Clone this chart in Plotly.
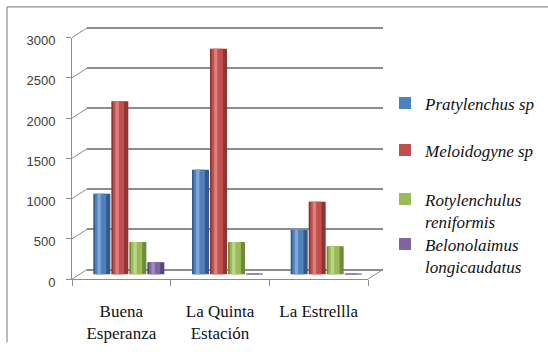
import plotly.graph_objects as go

# ---- data -------------------------------------------------------------
sites = ["Buena<br>Esperanza", "La Quinta<br>Estación", "La Estrellla"]
species = [
    "Pratylenchus sp",
    "Meloidogyne sp",
    "Rotylenchulus<br>reniformis",
    "Belonolaimus<br>longicaudatus",
]
pratylenchus = [1000, 1300, 550]
meloidogyne = [2150, 2800, 900]
rotylenchulus = [400, 400, 350]
belonolaimus = [150, 8, 8]
series_values = [pratylenchus, meloidogyne, rotylenchulus, belonolaimus]

y_ticks = [0, 500, 1000, 1500, 2000, 2500, 3000]

# ---- styling ----------------------------------------------------------
W, H = 548, 362
main_col = ["#4F81BD", "#C0504D", "#9BBB59", "#8064A2"]
dark_col = ["#34598A", "#8E3532", "#6F8A3A", "#5A4479"]
light_col = ["#7FA6D6", "#DC7F7C", "#BBD586", "#A38CC2"]
grid_col = "#8C8C8C"
SERIF = "Liberation Serif, Times New Roman, serif"

PX_PER_UNIT = 0.084          # vertical scale shared by all three layers
DEPTH_X, DEPTH_Y = 15, 10    # 3-D depth offset of the back wall (px)

# front axes box (px, measured from top-left of the page)
FRONT_L, FRONT_R, FRONT_ZERO = 72, 368, 287


def fx(px):
    return px / W


def fy(py):
    return 1 - py / H


def y_range(zero_px, top_px, bottom_px):
    return [-(bottom_px - zero_px) / PX_PER_UNIT, (zero_px - top_px) / PX_PER_UNIT]


fig = go.Figure()

# back wall (gridlines only) on x / y
back_zero = FRONT_ZERO - DEPTH_Y
fig.add_trace(go.Scatter(x=[0], y=[None], xaxis="x", yaxis="y",
                         mode="markers", showlegend=False, hoverinfo="skip"))
# front axes with the labels on x2 / y2
fig.add_trace(go.Scatter(x=sites, y=[None] * len(sites), xaxis="x2", yaxis="y2",
                         mode="markers", showlegend=False, hoverinfo="skip"))

# shaded cylinders on x3 / y3, set half-way into the depth
cat_px = (FRONT_R - FRONT_L) / len(sites)
pitch = 18 / cat_px
bar_w = 17 / cat_px
n = len(species)
for i, (name, vals) in enumerate(zip(species, series_values)):
    left = -n / 2 * pitch + i * pitch + (pitch - bar_w) / 2
    layers = [
        (dark_col[i], left, bar_w, False),
        (main_col[i], left + 0.10 * bar_w, 0.66 * bar_w, True),
        (light_col[i], left + 0.24 * bar_w, 0.20 * bar_w, False),
    ]
    for col, off, wid, in_legend in layers:
        fig.add_trace(go.Bar(
            x=sites, y=vals, name=name,
            xaxis="x3", yaxis="y3",
            offset=off, width=wid,
            marker=dict(color=col, line=dict(width=0)),
            showlegend=in_legend,
            legend=("legend" if i == 0 else f"legend{i + 1}"),
        ))

mid_x = DEPTH_X / 2
mid_zero = FRONT_ZERO - DEPTH_Y / 2

layout = dict(
    width=W, height=H,
    margin=dict(l=0, r=0, t=0, b=0),
    paper_bgcolor="white",
    plot_bgcolor="rgba(0,0,0,0)",
    barmode="overlay",
    xaxis=dict(domain=[fx(FRONT_L + DEPTH_X), fx(FRONT_R + DEPTH_X)],
               range=[0, 1], visible=False, fixedrange=True),
    yaxis=dict(domain=[fy(282), fy(15)], range=y_range(back_zero, 15, 282),
               showgrid=True, gridcolor=grid_col, gridwidth=1.5,
               tickmode="array", tickvals=y_ticks, showticklabels=False,
               zeroline=False, showline=False, ticks=""),
    xaxis2=dict(domain=[fx(FRONT_L), fx(FRONT_R)], anchor="y2",
                type="category", categoryarray=sites, range=[-0.5, 2.5],
                showline=True, linecolor=grid_col, linewidth=1,
                ticks="outside", tickson="boundaries", ticklen=6,
                tickcolor=grid_col, showgrid=False,
                tickfont=dict(family=SERIF, size=17, color="#111111"),
                ticklabelstandoff=16),
    yaxis2=dict(domain=[fy(FRONT_ZERO), fy(FRONT_ZERO - 3000 * PX_PER_UNIT)],
                anchor="x2", range=[0, 3000],
                tickmode="array", tickvals=y_ticks,
                showline=True, linecolor=grid_col, linewidth=1,
                ticks="outside", ticklen=5, tickcolor=grid_col,
                showgrid=False, zeroline=False,
                tickfont=dict(family="Liberation Sans", size=13, color="#404040"),
                ticklabelstandoff=8, ticklabelshift=3),
    xaxis3=dict(domain=[fx(FRONT_L + mid_x), fx(FRONT_R + mid_x)], anchor="y3",
                type="category", categoryarray=sites, range=[-0.5, 2.5],
                visible=False),
    yaxis3=dict(domain=[fy(290), fy(15)], anchor="x3",
                range=y_range(mid_zero, 15, 290), visible=False),
)

# one legend box per series so each entry sits at its own height
legend_tops = [85, 134, 185, 232]
leg_font = dict(family=SERIF, size=17, color="#111111", style="italic")
for i, top in enumerate(legend_tops):
    key = "legend" if i == 0 else f"legend{i + 1}"
    layout[key] = dict(x=fx(385), y=fy(top), xanchor="left", yanchor="top",
                       bgcolor="rgba(0,0,0,0)", borderwidth=0,
                       font=leg_font, valign="top", itemwidth=30)

# 3-D connectors from the front axis to the back wall
shapes = []
for t in y_ticks:
    y_front = FRONT_ZERO - t * PX_PER_UNIT
    shapes.append(dict(type="line", xref="paper", yref="paper",
                       x0=fx(FRONT_L), y0=fy(y_front),
                       x1=fx(FRONT_L + DEPTH_X), y1=fy(y_front - DEPTH_Y),
                       line=dict(color=grid_col, width=1)))
shapes.append(dict(type="line", xref="paper", yref="paper",
                   x0=fx(FRONT_R), y0=fy(FRONT_ZERO),
                   x1=fx(FRONT_R + DEPTH_X), y1=fy(FRONT_ZERO - DEPTH_Y),
                   line=dict(color=grid_col, width=1)))
# chart frame (top and left edges)
shapes.append(dict(type="line", xref="paper", yref="paper",
                   x0=fx(7), y0=fy(3), x1=1.01, y1=fy(3),
                   line=dict(color=grid_col, width=1.2)))
shapes.append(dict(type="line", xref="paper", yref="paper",
                   x0=fx(7), y0=fy(3), x1=fx(7), y1=fy(353),
                   line=dict(color=grid_col, width=1.2)))
layout["shapes"] = shapes

fig.update_layout(**layout)
fig.write_html("out.html")
